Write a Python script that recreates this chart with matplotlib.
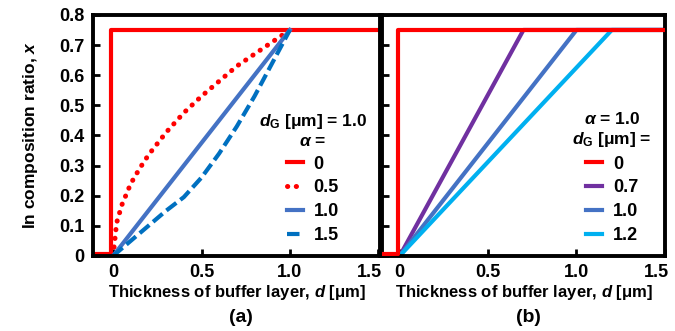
import matplotlib.pyplot as plt
from matplotlib.transforms import ScaledTranslation

plt.rcParams["font.family"] = ["Liberation Sans", "DejaVu Sans"]
plt.rcParams["font.weight"] = "bold"
plt.rcParams["mathtext.fontset"] = "custom"
plt.rcParams["mathtext.rm"] = "Liberation Sans:bold"
plt.rcParams["mathtext.it"] = "Liberation Sans:italic:bold"
plt.rcParams["mathtext.bf"] = "Liberation Sans:bold"

# step profile (alpha = 0 / d_G = 0)
step_d = [-0.2, -0.01, -0.01, 1.6]
step_x = [0.006, 0.006, 0.75, 0.75]

# panel (a): d_G = 1.0, varying alpha
a05_d = [0, 0.02, 0.05, 0.1, 0.15, 0.2, 0.3, 0.4, 0.5, 0.6, 0.7, 0.8, 0.9, 1.0]
a05_x = [0, 0.11, 0.17, 0.24, 0.29, 0.335, 0.41, 0.475, 0.53, 0.58, 0.63, 0.67, 0.71, 0.75]
a10_d = [0, 1.0]
a10_x = [0, 0.75]
a15_d = [0, 0.1, 0.2, 0.3, 0.4, 0.5, 0.6, 0.7, 0.8, 0.9, 1.0]
a15_x = [0, 0.05, 0.1, 0.15, 0.195, 0.26, 0.34, 0.43, 0.53, 0.64, 0.75]

# panel (b): alpha = 1.0, varying d_G
g07_d = [0, 0.7, 1.6]
g07_x = [0, 0.75, 0.75]
g10_d = [0, 1.0, 1.6]
g10_x = [0, 0.75, 0.75]
g12_d = [0, 1.2, 1.6]
g12_x = [0, 0.75, 0.75]

xticks = [0, 0.5, 1.0, 1.5]
xticklabels = ["0", "0.5", "1.0", "1.5"]
yticks = [0, 0.1, 0.2, 0.3, 0.4, 0.5, 0.6, 0.7, 0.8]
yticklabels = ["0", "0.1", "0.2", "0.3", "0.4", "0.5", "0.6", "0.7", "0.8"]

RED = "#FF0000"
FS = 13
fig = plt.figure(figsize=(6.75, 3.31), dpi=100)
ax1 = fig.add_axes([0.138, 0.227, 0.425, 0.728])
ax2 = fig.add_axes([0.566, 0.227, 0.419, 0.728])

lw = 3.0
ax1.plot(step_d, step_x, color=RED, lw=lw, label="0")
ax1.plot(a05_d, a05_x, color=RED, lw=3.6, ls=(0, (0.05, 1.7)), dash_capstyle="round", label="0.5")
ax1.plot(a10_d, a10_x, color="#4472C4", lw=lw, label="1.0")
ax1.plot(a15_d, a15_x, color="#0070C0", lw=lw, ls=(0, (3.0, 1.2)), label="1.5")

ax2.plot(step_d, step_x, color=RED, lw=lw, label="0", zorder=5)
ax2.plot(g07_d, g07_x, color="#7030A0", lw=lw, label="0.7")
ax2.plot(g10_d, g10_x, color="#4472C4", lw=lw, label="1.0")
ax2.plot(g12_d, g12_x, color="#00B0F0", lw=lw, label="1.2")

ax1.set_xlim(-0.113, 1.51)
ax2.set_xlim(-0.1, 1.5)
for ax in (ax1, ax2):
    ax.set_ylim(0, 0.8)
    ax.set_xticks(xticks)
    ax.set_xticklabels(xticklabels)
    ax.set_yticks(yticks)
    ax.tick_params(direction="in", length=5, width=2, labelsize=FS, pad=6)
    for s in ax.spines.values():
        s.set_linewidth(2.8)
        s.set_color("black")
    ax.set_xlabel("Thickness of buffer layer, $d$ [μm]", fontsize=12,
                  fontweight="bold", labelpad=1)
    # last tick label sits a little left of the right spine
    last = ax.get_xticklabels()[-1]
    last.set_transform(last.get_transform() + ScaledTranslation(-6 / 72, 0, fig.dpi_scale_trans))

ax1.set_yticklabels(yticklabels)
ax2.set_yticklabels([])
ax1.set_ylabel("In composition ratio, $x$", fontsize=12.5, fontweight="bold", labelpad=14)

leg_kw = dict(loc="lower right", frameon=False, handlelength=0.9,
              handletextpad=0.6, labelspacing=0.38, fontsize=FS,
              title_fontsize=12.5, borderaxespad=0.25)
leg1 = ax1.legend(title="$d_\\mathrm{G}$ [μm] = 1.0\n$\\alpha$ =",
                  bbox_to_anchor=(0.995, 0.0), **leg_kw)
leg1.get_title().set_fontweight("bold")
leg1.get_title().set_multialignment("center")

leg2 = ax2.legend(title="$\\alpha$ = 1.0\n$d_\\mathrm{G}$ [μm] =",
                  bbox_to_anchor=(0.995, 0.0), **leg_kw)
leg2.get_title().set_fontweight("bold")
leg2.get_title().set_multialignment("center")

fig.text(0.357, 0.04, "(a)", ha="center", va="center", fontsize=14, fontweight="bold")
fig.text(0.783, 0.04, "(b)", ha="center", va="center", fontsize=14, fontweight="bold")

fig.savefig("out.png", dpi=100)
